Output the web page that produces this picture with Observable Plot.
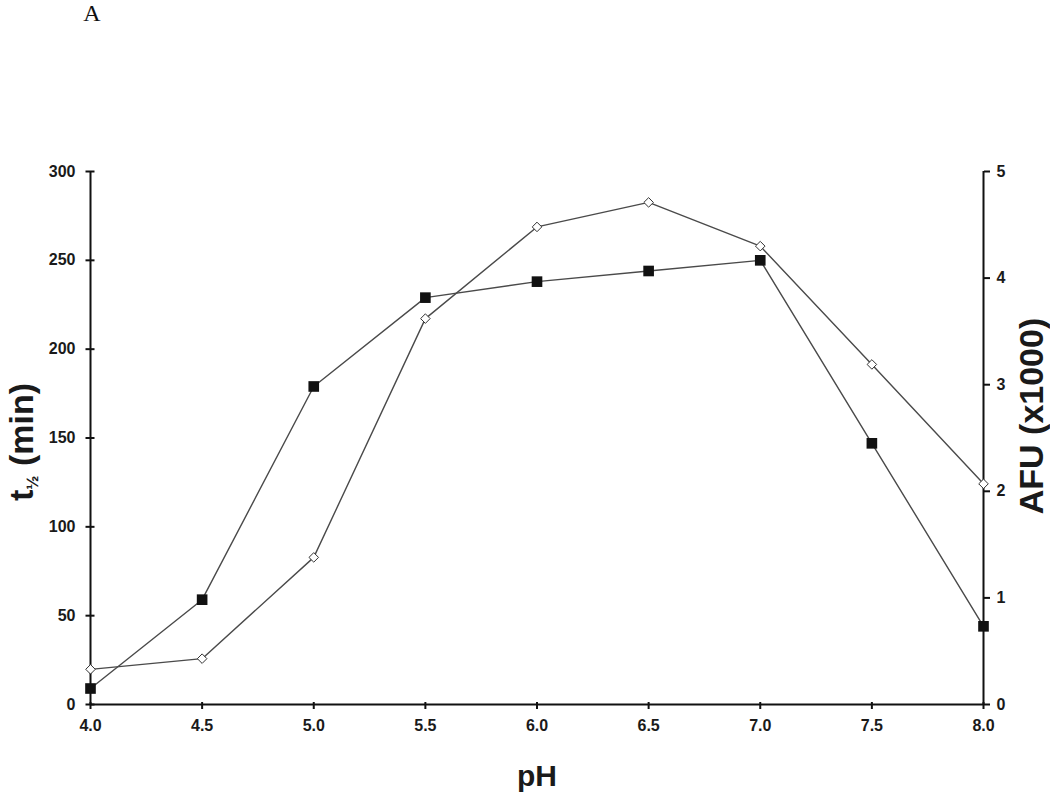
<!DOCTYPE html>
<html>
<head>
<meta charset="utf-8">
<script src="https://cdn.jsdelivr.net/npm/d3@7"></script>
<script src="https://cdn.jsdelivr.net/npm/@observablehq/plot@0.6"></script>
<style>
  body { margin: 0; background: #fff; }
  #chart svg { display: block; }
</style>
</head>
<body>
<div id="chart"></div>
<script>
// ---- data ----
const pH = [4.0, 4.5, 5.0, 5.5, 6.0, 6.5, 7.0, 7.5, 8.0];
// filled squares, read on the left axis: t½ (min)
const tHalf = [9, 59, 179, 229, 238, 244, 250, 147, 44];
// open diamonds, read on the right axis: AFU (x1000)
const afu = [0.33, 0.43, 1.38, 3.62, 4.48, 4.71, 4.30, 3.19, 2.07];

const leftTicks = [0, 50, 100, 150, 200, 250, 300];
const rightTicks = [0, 1, 2, 3, 4, 5];
const xTicks = [4.0, 4.5, 5.0, 5.5, 6.0, 6.5, 7.0, 7.5, 8.0];

const leftMax = 300, rightMax = 5;
const toLeft = v => v * leftMax / rightMax;

const squares = pH.map((x, i) => ({ pH: x, v: tHalf[i] }));
const diamonds = pH.map((x, i) => ({ pH: x, v: toLeft(afu[i]) }));

const font = "'Liberation Sans', Arial, Helvetica, sans-serif";
const tickText = { fontWeight: "bold", fontSize: 16, fill: "#1a1a1a", label: null };
const tickLine = { fill: "none", label: null, strokeWidth: 2, stroke: "#111" };

const plot = Plot.plot({
  width: 1050,
  height: 798,
  marginTop: 171,
  marginBottom: 94,
  marginLeft: 90,
  marginRight: 67,
  style: { fontFamily: font, background: "white", color: "#111" },
  x: { domain: [4, 8], axis: null, label: null },
  y: { domain: [0, leftMax], axis: null, label: null },
  marks: [
    Plot.ruleX([4, 8], { stroke: "#111", strokeWidth: 2 }),
    Plot.ruleY([0], { stroke: "#111", strokeWidth: 2 }),
    Plot.axisY({ anchor: "left", ticks: leftTicks, tickSize: 9, dx: 4.5, ...tickLine }),
    Plot.axisY({ anchor: "left", ticks: leftTicks, tickSize: 0, tickPadding: 15, ...tickText }),
    Plot.axisY({ anchor: "right", ticks: rightTicks.map(toLeft), tickSize: 6, ...tickLine }),
    Plot.axisY({ anchor: "right", ticks: rightTicks.map(toLeft), tickFormat: d => String(d * rightMax / leftMax), tickSize: 0, tickPadding: 13, ...tickText }),
    Plot.axisX({ anchor: "bottom", ticks: xTicks, tickSize: 7, dy: -2, ...tickLine }),
    Plot.axisX({ anchor: "bottom", ticks: xTicks, tickFormat: d => d.toFixed(1), tickSize: 0, tickPadding: 15, ...tickText }),
    Plot.line(squares, { x: "pH", y: "v", stroke: "#4a4a4a", strokeWidth: 1.4 }),
    Plot.line(diamonds, { x: "pH", y: "v", stroke: "#4a4a4a", strokeWidth: 1.4 }),
    Plot.dot(squares, { x: "pH", y: "v", symbol: "square", r: 6, fill: "#111", stroke: "none" }),
    Plot.dot(diamonds, { x: "pH", y: "v", symbol: "diamond2", r: 4.3, fill: "white", stroke: "#333", strokeWidth: 1 })
  ]
});

const svg = d3.select(plot);

// panel letter
svg.append("text")
  .attr("x", 92).attr("y", 21)
  .style("font-family", "'Liberation Serif', 'Times New Roman', serif")
  .style("font-size", "24px")
  .attr("fill", "#111")
  .text("A");

// x title
svg.append("text")
  .attr("x", 537).attr("y", 786)
  .attr("text-anchor", "middle")
  .style("font-family", font).style("font-size", "30px").style("font-weight", "bold")
  .attr("fill", "#1a1a1a")
  .text("pH");

// left title t½ (min)
const lt = svg.append("text")
  .attr("transform", "translate(33,442) rotate(-90)")
  .attr("text-anchor", "middle")
  .style("font-family", font).style("font-size", "34px").style("font-weight", "bold")
  .attr("fill", "#1a1a1a");
lt.append("tspan").text("t");
lt.append("tspan").attr("dy", 5).style("font-size", "17px").text("½");
lt.append("tspan").attr("dy", -5).text(" (min)");

// right title
svg.append("text")
  .attr("transform", "translate(1043,416) rotate(-90)")
  .attr("text-anchor", "middle")
  .style("font-family", font).style("font-size", "34px").style("font-weight", "bold")
  .attr("fill", "#1a1a1a")
  .text("AFU (x1000)");

document.getElementById("chart").appendChild(plot);
</script>
</body>
</html>
